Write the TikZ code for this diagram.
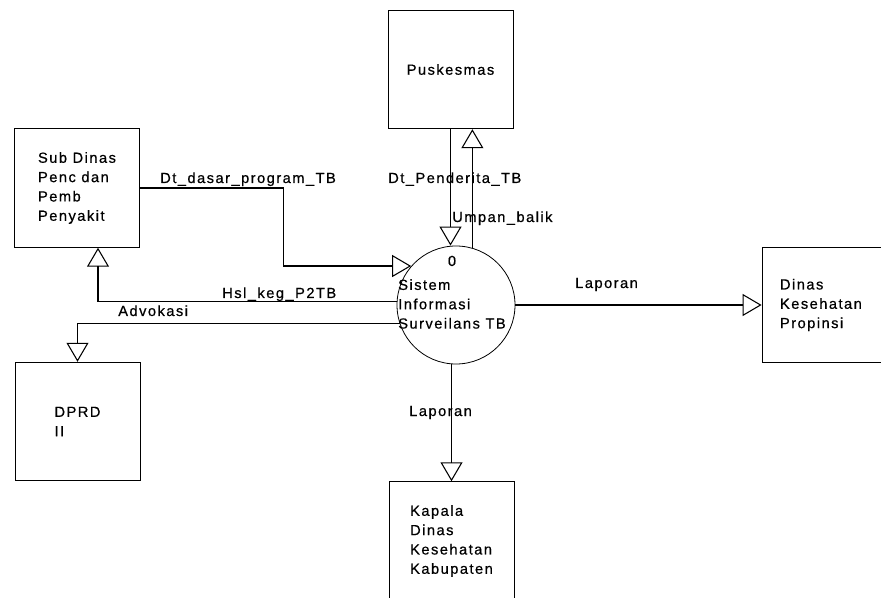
\documentclass[tikz,border=0pt]{standalone}
\usepackage{fontspec}
\setmainfont[LetterSpace=10, FakeBold=0.6]{Liberation Sans}
\usetikzlibrary{arrows.meta,calc}

\begin{document}
\begin{tikzpicture}[x=0.75pt,y=0.75pt,yscale=-1,xscale=1,
  font=\fontsize{11}{14.5}\selectfont,
  entity/.style={draw, line width=0.6pt, minimum width=93.75pt, minimum height=89pt, align=left, inner sep=0pt},
  flow/.style={line width=0.8pt, -{Triangle[open, length=14.25pt, width=16.5pt]}},
  txt/.style={inner sep=0.75pt, anchor=base west}]
%set diagram size 881 x 598, right and bottom boxes are cut off
\useasboundingbox (0,0) rectangle (881,598);
\clip (0,0) rectangle (881,598);

%Shape: Rectangle [Puskesmas]
\node [entity] (puskesmas) at (450.5,69.5) {Puskesmas};
%Shape: Rectangle [Sub Dinas]
\node [entity] (subdinas) at (77,188) {Sub Dinas\\Penc dan\\Pemb\\Penyakit};
%Shape: Rectangle [DPRD]
\node [entity] (dprd) at (77.5,421.5) {DPRD\\II};
%Shape: Rectangle [Kapala Dinas]
\node [entity] (kapala) at (451.5,541) {Kapala\\Dinas\\Kesehatan\\Kabupaten};
%Shape: Rectangle [Dinas Propinsi]
\node [entity, minimum width=105pt, minimum height=86.25pt, text width=78pt, inner xsep=13.5pt] (dinas) at (832,305) {Dinas\\Kesehatan\\Propinsi};
%Shape: Circle [proses 0]
\node [draw, circle, line width=0.6pt, minimum size=88.5pt, inner sep=0pt] (proc) at (456,305) {};

%Straight Lines
\draw [flow] (puskesmas.south) -- (puskesmas.south |- proc.north);
%Straight Lines
\draw [flow] (proc.74) -- (proc.74 |- puskesmas.south);
%Straight Lines
\draw [flow] (subdinas.east) -- ++(144,0) |- (proc.139);
%Straight Lines
\draw [flow] (proc.177) -| ($(subdinas.south)+(21,0)$);
%Straight Lines
\draw [flow] (proc.198) -| (dprd.north);
%Straight Lines
\draw [flow] (proc.east) -- (proc.east -| dinas.west);
%Straight Lines
\draw [flow] (kapala.north |- proc.south) -- (kapala.north);

% Text Node
\node [txt, anchor=base] (proc num) at (452,266) {0};
% Text Node
\node [inner sep=0.75pt, anchor=north west, align=left] (proc name) at (397,278) {Sistem\\Informasi\\Surveilans TB};
% Text Node
\node [txt] (lbl dasar) at (159,183) {Dt\_dasar\_program\_TB};
% Text Node
\node [txt] (lbl penderita) at (387,183) {Dt\_Penderita\_TB};
% Text Node
\node [txt] (lbl umpan) at (451,222) {Umpan\_balik};
% Text Node
\node [txt] (lbl hasil) at (221,298) {Hsl\_keg\_P2TB};
% Text Node
\node [txt] (lbl advokasi) at (117,316) {Advokasi};
% Text Node
\node [txt] (lbl lapor prop) at (574,288) {Laporan};
% Text Node
\node [txt] (lbl lapor kab) at (408,416) {Laporan};

\end{tikzpicture}
\end{document}
